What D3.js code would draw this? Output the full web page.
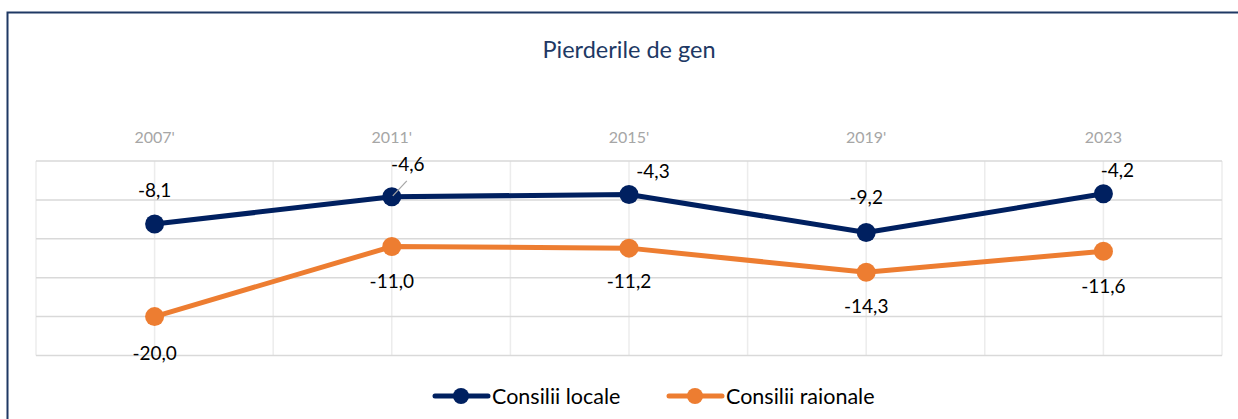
<!DOCTYPE html>
<html>
<head>
<meta charset="utf-8">
<script src="https://cdn.jsdelivr.net/npm/d3@7"></script>
<style>
  body { margin:0; background:#fff; }
  text { font-family: Lato, "Open Sans", sans-serif; }
</style>
</head>
<body>
<svg id="graph"></svg>
<script>
var years = ["2007'", "2011'", "2015'", "2019'", "2023"];
var locale = [-8.1, -4.6, -4.3, -9.2, -4.2];
var raionale = [-20.0, -11.0, -11.2, -14.3, -11.6];
var yTicks = [0, -5, -10, -15, -20, -25];

// label nudges (layout only)
var nudgeLocale = [[0,-27],[16,-26],[24,-16],[0,-29],[14,-17]];
var nudgeRaionale = [[0,43],[0,41],[0,40],[0,41],[0,42]];

var screen = {width:1238, height:419};
var svg = d3.select("#graph").attr("width", screen.width).attr("height", screen.height);

// border
svg.append("rect")
  .attr("x", 7.5).attr("y", 12.5)
  .attr("width", 1240).attr("height", 420)
  .attr("fill", "none").attr("stroke", "#1F3864").attr("stroke-width", 2);

var plot = {left:36, right:1222, top:161, bottom:355.5};

var xScale = d3.scaleBand().domain(years).range([plot.left, plot.right]);
var yScale = d3.scaleLinear().domain([0, -25]).range([plot.top, plot.bottom]);
var cx = function(i){ return xScale(years[i]) + xScale.bandwidth()/2; };

// vertical grid (band edges and centers)
var vlines = [];
years.forEach(function(y){ vlines.push(xScale(y)); vlines.push(xScale(y) + xScale.bandwidth()/2); });
vlines.push(plot.right);
svg.append("g").selectAll("line").data(vlines).enter().append("line")
  .attr("x1", function(d){return d;}).attr("x2", function(d){return d;})
  .attr("y1", plot.top).attr("y2", plot.bottom)
  .attr("stroke", "#ececec").attr("stroke-width", 1.5);

// horizontal grid
svg.append("g").selectAll("line").data(yTicks).enter().append("line")
  .attr("x1", plot.left).attr("x2", plot.right)
  .attr("y1", function(d){return yScale(d);}).attr("y2", function(d){return yScale(d);})
  .attr("stroke", "#d9d9d9").attr("stroke-width", 1.5);

// title
svg.append("text").attr("x", 629).attr("y", 58)
  .attr("text-anchor", "middle").attr("font-size", 23.5).attr("fill", "#203864")
  .text("Pierderile de gen");

// category labels
svg.append("g").selectAll("text").data(years).enter().append("text")
  .attr("x", function(d,i){return cx(i);}).attr("y", 143)
  .attr("text-anchor", "middle").attr("font-size", 16).attr("fill", "#a6a6a6")
  .text(function(d){return d;});

var series = [
  {name:"Consilii locale", values:locale, color:"#002060", nudge:nudgeLocale},
  {name:"Consilii raionale", values:raionale, color:"#ED7D31", nudge:nudgeRaionale}
];

var line = d3.line()
  .x(function(d,i){return cx(i);})
  .y(function(d){return yScale(d);});

var fmt = function(v){ return v.toFixed(1).replace(".", ","); };

series.forEach(function(s){
  svg.append("path").datum(s.values)
    .attr("d", line).attr("fill", "none")
    .attr("stroke", s.color).attr("stroke-width", 5).attr("stroke-linejoin", "round");
  svg.append("g").selectAll("circle").data(s.values).enter().append("circle")
    .attr("cx", function(d,i){return cx(i);})
    .attr("cy", function(d){return yScale(d);})
    .attr("r", 9.5).attr("fill", s.color);
  svg.append("g").selectAll("text").data(s.values).enter().append("text")
    .attr("x", function(d,i){return cx(i) + s.nudge[i][0];})
    .attr("y", function(d,i){return yScale(d) + s.nudge[i][1];})
    .attr("text-anchor", "middle").attr("font-size", 19).attr("fill", "#000")
    .text(fmt);
});

// leader line for 2011 locale label
svg.append("line")
  .attr("x1", cx(1)+1).attr("y1", yScale(locale[1])-1)
  .attr("x2", cx(1)+15).attr("y2", yScale(locale[1])-16)
  .attr("stroke", "#a6a6a6").attr("stroke-width", 1.2);

// legend
var legendX = [433, 667];
series.forEach(function(s, i){
  var g = svg.append("g").attr("transform", "translate(" + legendX[i] + ",396)");
  g.append("line").attr("x1", 2).attr("x2", 55).attr("y1", 0).attr("y2", 0)
    .attr("stroke", s.color).attr("stroke-width", 5).attr("stroke-linecap", "round");
  g.append("circle").attr("cx", 28).attr("cy", 0).attr("r", 8).attr("fill", s.color);
  g.append("text").attr("x", 59).attr("y", 7.5).attr("font-size", 21.5).attr("fill", "#000")
    .text(s.name);
});
</script>
</body>
</html>
